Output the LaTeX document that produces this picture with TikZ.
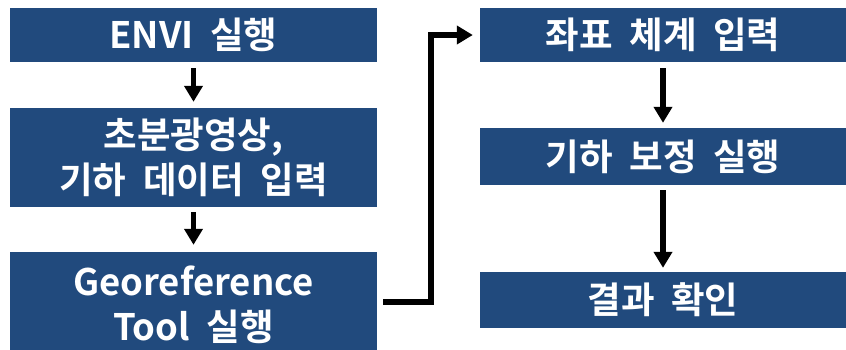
\documentclass[tikz,border=0pt]{standalone}
\usepackage{fontspec}
\newfontfamily\krb{Noto Sans CJK KR Bold}[WordSpace=2.0]
\usetikzlibrary{arrows.meta}
\definecolor{boxblue}{HTML}{214A7D}
\tikzset{
  box/.style={fill=boxblue, text=white, font=\krb\fontsize{36.5}{45}\selectfont, align=center, inner sep=0pt, draw=none},
  conn/.style={line width=5.5pt, -{Triangle[length=16pt,width=18pt]}},
}
\begin{document}
\begin{tikzpicture}[x=1pt,y=-1pt]
\useasboundingbox (0,0) rectangle (846,349);
\node[box, minimum width=367pt, minimum height=54pt] (b1) at (193.5,35) {ENVI 실행};
\node[box, minimum width=367pt, minimum height=99pt] (b2) at (193.5,157.5) {초분광영상,\\기하 데이터 입력};
\node[box, minimum width=367pt, minimum height=106pt] (b3) at (193.5,305) {Georeference\\Tool 실행};
\node[box, minimum width=366pt, minimum height=54pt] (r1) at (663,35) {좌표 체계 입력};
\node[box, minimum width=366pt, minimum height=57pt] (r2) at (663,156.5) {기하 보정 실행};
\node[box, minimum width=366pt, minimum height=56pt] (r3) at (663,300) {결과 확인};
\draw[conn, shorten <=6pt, shorten >=6pt] (b1) -- (b2);
\draw[conn, shorten <=5pt, shorten >=7pt] (b2) -- (b3);
\draw[conn, shorten <=6pt, shorten >=5pt] (r1) -- (r2);
\draw[conn, shorten <=5pt, shorten >=4pt] (r2) -- (r3);
\draw[conn, shorten <=6pt, shorten >=7pt] ([yshift=3pt]b3.east) -- ++(54,0) |- (r1.west);
\end{tikzpicture}
\end{document}
